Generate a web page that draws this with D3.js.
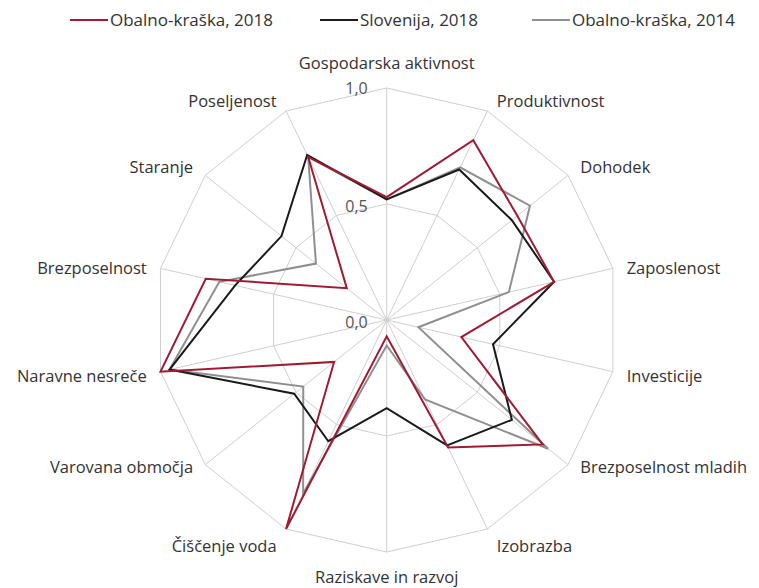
<!DOCTYPE html>
<html>
<head>
<meta charset="utf-8">
<script src="https://cdn.jsdelivr.net/npm/d3@7"></script>
<style>
  body { margin: 0; background: #fff; }
  svg text { font-family: 'Open Sans', 'Noto Sans', Arial, sans-serif; fill: #333; }
</style>
</head>
<body>
<svg id="chart" width="759" height="588"></svg>
<script>
const axisNames = ["Gospodarska aktivnost", "Produktivnost", "Dohodek", "Zaposlenost", "Investicije",
  "Brezposelnost mladih", "Izobrazba", "Raziskave in razvoj", "Čiščenje voda", "Varovana območja",
  "Naravne nesreče", "Brezposelnost", "Staranje", "Poseljenost"];

const seriesNames = ["Obalno-kraška, 2018", "Slovenija, 2018", "Obalno-kraška, 2014"];
const obalnoKraska2018 = [0.53, 0.86, 0.72, 0.74, 0.33, 0.86, 0.61, 0.07, 1.0, 0.29, 1.0, 0.80, 0.22, 0.78];
const slovenija2018 = [0.52, 0.72, 0.69, 0.74, 0.47, 0.69, 0.60, 0.38, 0.58, 0.51, 0.96, 0.67, 0.58, 0.79];
const obalnoKraska2014 = [0.52, 0.73, 0.79, 0.54, 0.14, 0.89, 0.38, 0.11, 0.83, 0.46, 0.96, 0.74, 0.39, 0.78];
const ringValues = [0.5, 1.0];
const scaleTicks = [0.0, 0.5, 1.0];

const colors = ["#9e1b32", "#1a1a1a", "#8f8f8f"];

const svg = d3.select("#chart");
const cx = 386.7, cy = 320;
const R = 232;

const rScale = d3.scaleLinear().domain([0, 1]).range([0, R]);
const angleScale = d3.scaleLinear().domain([0, axisNames.length]).range([0, 2 * Math.PI]);

const chart = svg.append("g").attr("transform", `translate(${cx},${cy})`);

// grid rings and spokes
const ringLine = d3.lineRadial().angle((d, i) => angleScale(i)).radius(d => rScale(d)).curve(d3.curveLinearClosed);
chart.selectAll("path.ring").data(ringValues)
  .join("path")
  .attr("class", "ring")
  .attr("d", v => ringLine(axisNames.map(() => v)))
  .attr("fill", "none")
  .attr("stroke", "#cfcfcf")
  .attr("stroke-width", 1);

const point = (i, v) => {
  const a = angleScale(i);
  return [rScale(v) * Math.sin(a), -rScale(v) * Math.cos(a)];
};

chart.selectAll("line.spoke").data(axisNames)
  .join("line")
  .attr("class", "spoke")
  .attr("x1", 0).attr("y1", 0)
  .attr("x2", (d, i) => point(i, 1)[0])
  .attr("y2", (d, i) => point(i, 1)[1])
  .attr("stroke", "#cfcfcf")
  .attr("stroke-width", 1);

// scale labels
chart.selectAll("text.tick").data(scaleTicks)
  .join("text")
  .attr("class", "tick")
  .attr("x", -19)
  .attr("y", d => -rScale(d) + (d === 1 ? 0 : 2))
  .attr("dy", "0.35em")
  .attr("text-anchor", "end")
  .style("font-size", "16px")
  .style("fill", "#555")
  .text(d => d.toFixed(1).replace(".", ","));

// series
const allSeries = [obalnoKraska2018, slovenija2018, obalnoKraska2014];
const seriesLine = d3.lineRadial().angle((d, i) => angleScale(i)).radius(d => rScale(d)).curve(d3.curveLinearClosed);
chart.selectAll("path.series").data([2, 1, 0])
  .join("path")
  .attr("class", "series")
  .attr("d", k => seriesLine(allSeries[k]))
  .attr("fill", "none")
  .attr("stroke", k => colors[k])
  .attr("stroke-width", 2)
  .attr("stroke-linejoin", "miter");

// axis labels
chart.selectAll("text.axis-label").data(axisNames)
  .join("text")
  .attr("class", "axis-label")
  .each(function(d, i) {
    const [x, y] = point(i, 1);
    const s = Math.sin(angleScale(i));
    const c = Math.cos(angleScale(i));
    let anchor = "middle", tx = x, ty = y;
    if (Math.abs(s) < 0.1) {
      ty = c > 0 ? y - 25 : y + 25;
    } else {
      anchor = s > 0 ? "start" : "end";
      const off = 6 + 8 * Math.abs(s);
      tx = x + (s > 0 ? off : -off);
      ty = y + (c > 0.8 ? -10 : c > 0.5 ? -8 : c > 0 ? 0 : c > -0.5 ? 5 : c > -0.8 ? 3 : 17);
    }
    d3.select(this)
      .attr("x", tx).attr("y", ty)
      .attr("dy", "0.35em")
      .attr("text-anchor", anchor)
      .style("font-size", "16.5px")
      .text(d);
  });

// legend
const legendX = [70, 320, 532];
const legend = svg.append("g").attr("class", "legend");
seriesNames.forEach((name, k) => {
  const g = legend.append("g").attr("transform", `translate(${legendX[k]},20)`);
  g.append("line").attr("x1", 0).attr("x2", 38).attr("y1", 0).attr("y2", 0)
    .attr("stroke", colors[k]).attr("stroke-width", 2);
  g.append("text").attr("x", 40).attr("y", 0).attr("dy", "0.35em")
    .style("font-size", "17px").text(name);
});
</script>
</body>
</html>
